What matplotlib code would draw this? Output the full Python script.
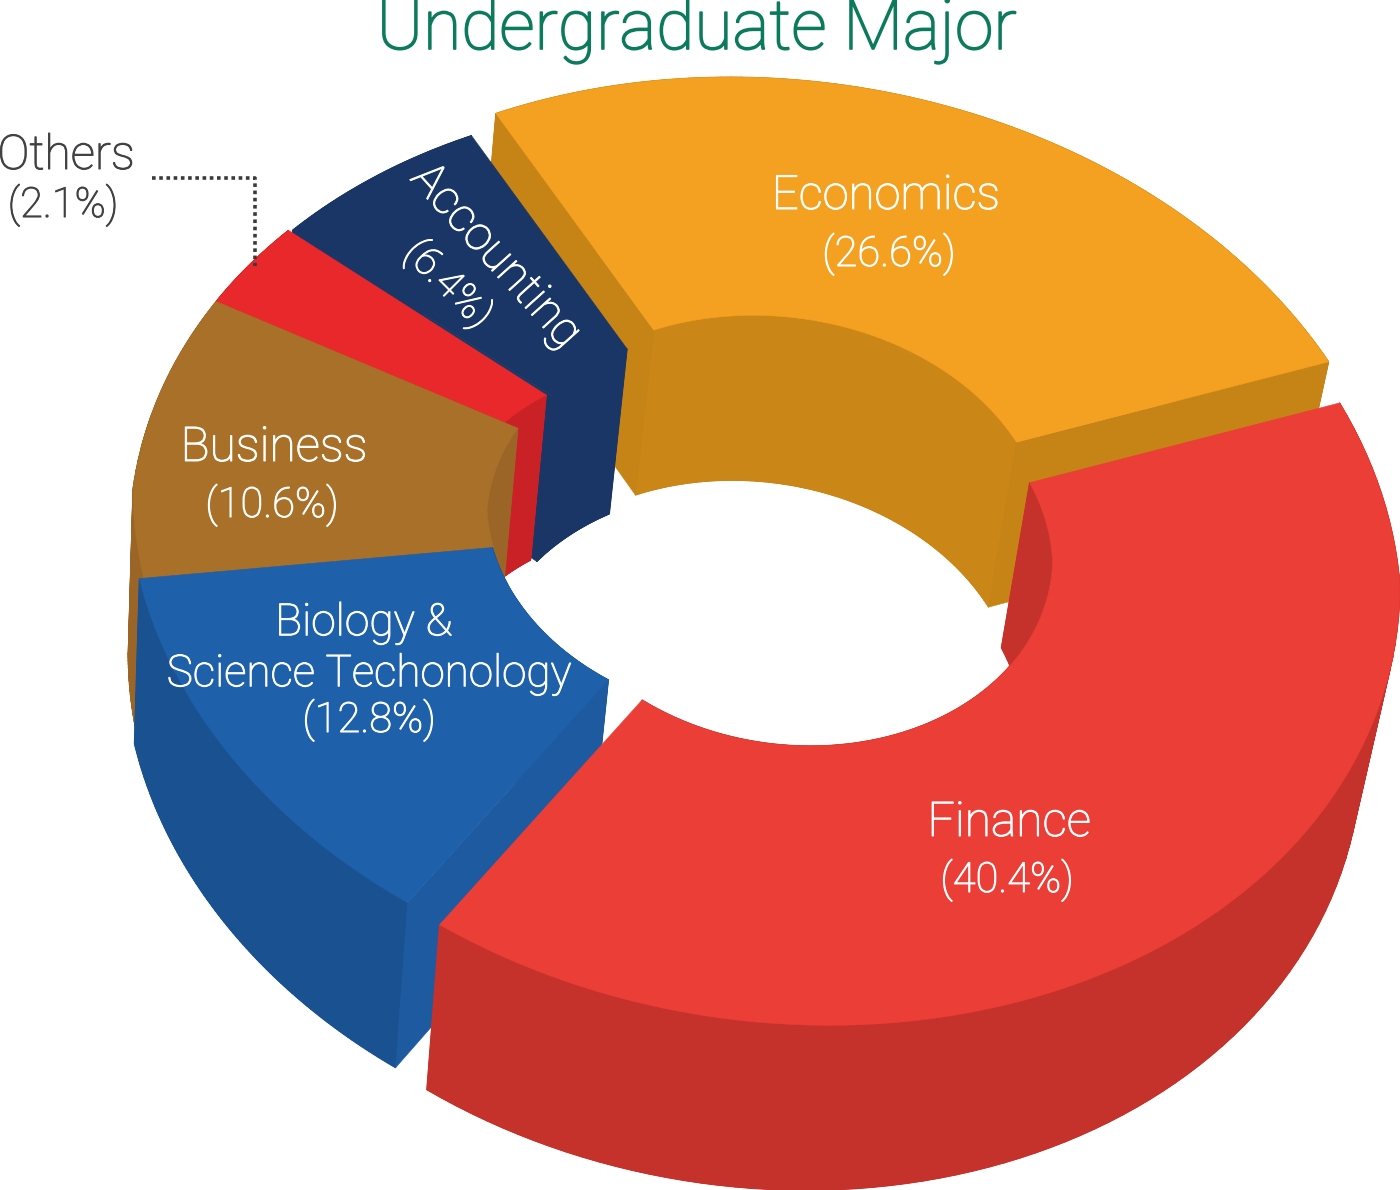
import numpy as np
import matplotlib
matplotlib.use("Agg")
import matplotlib.pyplot as plt
import matplotlib.patheffects as pe
from matplotlib.collections import PolyCollection
from matplotlib.patches import Polygon

plt.rcParams['font.family'] = ['Roboto', 'Liberation Sans', 'DejaVu Sans']
plt.rcParams['font.weight'] = 'light'

# Data
slice_names = ["Finance", "Biology", "Business", "Others", "Accounting", "Economics"]
printed_pct = [40.4, 12.8, 10.6, 2.1, 6.4, 26.6]
# the wedges as drawn (the printed figures do not reach 100)
drawn_share = [40.5, 12.7, 10.0, 3.3, 6.3, 27.2]

# Styles and layout
top_colors = ["#EA3E36", "#1E60AA", "#A87028", "#E8282B", "#1A3666", "#F4A020"]
wall_colors = ["#C5322B", "#1A5191", "#9A6526", "#C92126", "#1A3666", "#CA8617"]
side_colors = ["#C5322B", "#1E5AA0", "#9A6526", "#C61E20", "#1A3666", "#C68416"]
apex = {"Finance": (780, 547), "Biology": (748, 525), "Business": (753, 527),
        "Others": (753, 527), "Accounting": (757, 527), "Economics": (780, 503)}
inner_r = {"Finance": (.446, .405), "Biology": (.41, .42), "Business": (.425, .438),
           "Others": (.463, .445), "Accounting": (.44, .455), "Economics": (.444, .431)}
dip = {"Finance": .06, "Biology": .105, "Business": .105, "Others": .105,
       "Accounting": .105, "Economics": .11}
paint_order = ["Economics", "Accounting", "Others", "Business", "Biology", "Finance"]

U = np.array([620.0, 37.9])
V = np.array([0.0, 476.8])
START = -22.5
DEPTH = 165.0


def project(a, r, c, d):
    a = np.radians(a)
    f = 1 - d * np.maximum(0, -np.sin(a))
    return (np.array(c)[None, :] + (f * r)[:, None] * (np.cos(a)[:, None] * U + np.sin(a)[:, None] * V))


def drop(p):
    q = p.copy()
    q[:, 0] = p[:, 0] - 0.0262 * (p[:, 0] + 50)
    q[:, 1] = p[:, 1] + DEPTH
    return q


fig = plt.figure(figsize=(14, 11.9), dpi=100)
ax = fig.add_axes([0, 0, 1, 1])
ax.set_xlim(0, 1400)
ax.set_ylim(1190, 0)
ax.axis('off')


def poly(pts, color, z):
    ax.add_patch(Polygon(pts, closed=True, facecolor=color, edgecolor=color, linewidth=0.4, zorder=z))


def sweep(arc, color, z):
    low = drop(arc)
    quads = [np.array([arc[j], arc[j + 1], low[j + 1], low[j]]) for j in range(len(arc) - 1)]
    ax.add_collection(PolyCollection(quads, facecolors=color, edgecolors=color, linewidths=0.8, zorder=z))
    poly(np.vstack([arc, low[::-1]]), color, z)


edges = START + np.concatenate([[0], np.cumsum(drawn_share)]) * 3.6
z = 1
for name in paint_order:
    i = slice_names.index(name)
    a = np.linspace(edges[i], edges[i + 1], 90)
    c = apex[name]
    outer = project(a, np.ones_like(a), c, dip[name])
    inner = project(a, np.linspace(*inner_r[name], len(a)), c, dip[name])
    sweep(outer, wall_colors[i], z)
    sweep(inner, wall_colors[i], z)
    z += 1
    # only the radial faces that turn towards the viewer
    for k, sign in ((0, -1), (-1, 1)):
        d = outer[k] - inner[k]
        D = drop(inner[[k]])[0] - inner[k]
        if sign * (d[0] * D[1] - d[1] * D[0]) > 0:
            top = np.array([inner[k], outer[k]])
            poly(np.vstack([top, drop(top)[::-1]]), side_colors[i], z)
    z += 1
    poly(np.vstack([outer, inner[::-1]]), top_colors[i], z)
    z += 1

T = 50


def heavier(color, w=0.7):
    return [pe.withStroke(linewidth=w, foreground=color)]


ax.text(697, 49, "Undergraduate Major", color="#0C7A5C", fontsize=50.2, ha='center', va='baseline',
        zorder=T, path_effects=heavier("#0C7A5C", 1.2))


def pct(v):
    return f"({v:.1f}%)"


def lab(x, y, s, size, color="white", rot=0):
    ax.text(x, y, s, color=color, fontsize=size, ha='center', va='center', rotation=rot,
            rotation_mode='anchor', zorder=T, path_effects=heavier(color))


lab(886, 196, "Economics", 34)
lab(889, 254, pct(printed_pct[5]), 30)
lab(1009, 823, "Finance", 34.5)
lab(1007, 880, pct(printed_pct[0]), 30)
lab(274, 448, "Business", 34.5)
lab(272, 505, pct(printed_pct[2]), 30)
lab(364, 623, "Biology &", 32)
lab(369, 674, "Science Techonology", 31.7)
lab(369, 720, pct(printed_pct[1]), 30)
lab(496, 256, "Accounting", 34, rot=-48)
lab(448, 284, pct(printed_pct[4]), 29, rot=-45)
lab(66, 156, slice_names[3], 34.5, color="#414042")
lab(63, 205, pct(printed_pct[3]), 30, color="#414042")

ax.plot([152, 255, 255], [178, 178, 266], color="#3A3A3C", lw=2.6, ls=(0, (1, 1)),
        dash_capstyle='butt', solid_joinstyle='miter', zorder=T)

fig.savefig("out.png", dpi=100, facecolor="white")
